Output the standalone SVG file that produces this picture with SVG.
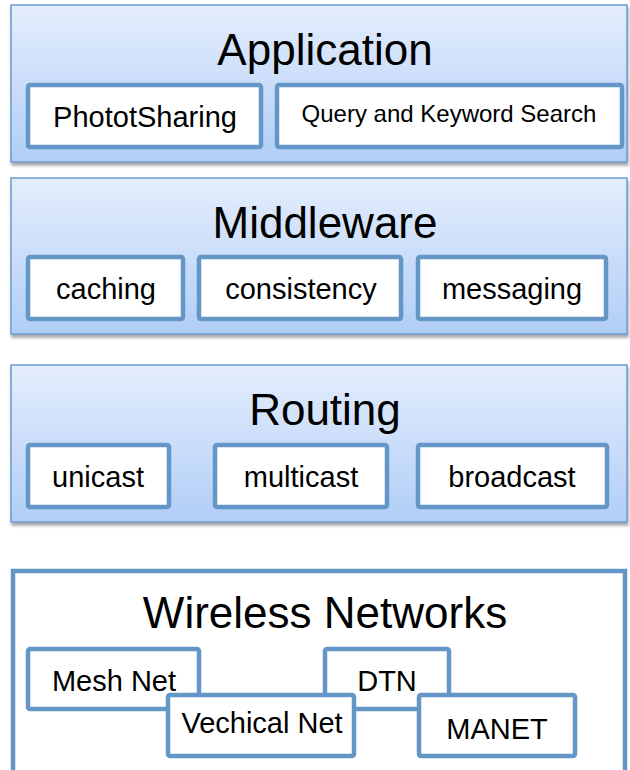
<svg xmlns="http://www.w3.org/2000/svg" width="630" height="770" viewBox="0 0 630 770">
<defs>
<linearGradient id="pg" x1="0" y1="0" x2="0" y2="1">
<stop offset="0" stop-color="#e4edfc"/>
<stop offset="1" stop-color="#b1cef7"/>
</linearGradient>
<filter id="sh" x="-5%" y="-5%" width="110%" height="120%">
<feDropShadow dx="1" dy="3" stdDeviation="1.5" flood-color="#000" flood-opacity="0.35"/>
</filter>
</defs>
<style>
.panel{fill:url(#pg);stroke:#6b9bd0;stroke-width:1.5;filter:url(#sh)}
.wpanel{fill:#fff;stroke:#6496c8;stroke-width:4.5}
.box{fill:#fff;stroke:#6496c8;stroke-width:4.5}
text{font-family:"Liberation Sans",Arial,sans-serif;fill:#000;text-anchor:middle}
.t{font-size:44px}
.s{font-size:29px}
.q{font-size:24px}
</style>
<rect width="630" height="770" fill="#fff"/>
<g id="application">
<rect class="panel" x="11" y="5" width="616" height="157"/>
<text class="t" x="325" y="65">Application</text>
<g id="photosharing"><rect class="box" x="28" y="85" width="233" height="62" rx="2"/><text class="s" x="145" y="127">PhototSharing</text></g>
<g id="query"><rect class="box" x="277" y="85" width="345" height="62" rx="2"/><text class="q" x="449" y="122">Query and Keyword Search</text></g>
</g>
<g id="middleware">
<rect class="panel" x="11" y="178" width="616" height="156"/>
<text class="t" x="325" y="238">Middleware</text>
<g id="caching"><rect class="box" x="28" y="257" width="155" height="62" rx="2"/><text class="s" x="106" y="299">caching</text></g>
<g id="consistency"><rect class="box" x="199" y="257" width="202" height="62" rx="2"/><text class="s" x="301" y="299">consistency</text></g>
<g id="messaging"><rect class="box" x="418" y="257" width="188" height="62" rx="2"/><text class="s" x="512" y="299">messaging</text></g>
</g>
<g id="routing">
<rect class="panel" x="11" y="365" width="616" height="157"/>
<text class="t" x="325" y="425">Routing</text>
<g id="unicast"><rect class="box" x="28" y="445" width="141" height="62" rx="2"/><text class="s" x="98" y="487">unicast</text></g>
<g id="multicast"><rect class="box" x="215" y="445" width="172" height="62" rx="2"/><text class="s" x="301" y="487">multicast</text></g>
<g id="broadcast"><rect class="box" x="418" y="445" width="189" height="62" rx="2"/><text class="s" x="512" y="487">broadcast</text></g>
</g>
<g id="wireless">
<rect class="wpanel" x="13" y="571" width="612" height="210"/>
<text class="t" x="325" y="628">Wireless Networks</text>
<g id="mesh"><rect class="box" x="28" y="649" width="171" height="60" rx="2"/><text class="s" x="114" y="691">Mesh Net</text></g>
<g id="dtn"><rect class="box" x="325" y="649" width="124" height="60" rx="2"/><text class="s" x="387" y="691">DTN</text></g>
<g id="vechical"><rect class="box" x="168" y="695" width="186" height="61" rx="2"/><text class="s" x="262" y="733">Vechical Net</text></g>
<g id="manet"><rect class="box" x="419" y="695" width="156" height="61" rx="2"/><text class="s" x="497" y="739">MANET</text></g>
</g>
<g id="connectors"></g>
</svg>
